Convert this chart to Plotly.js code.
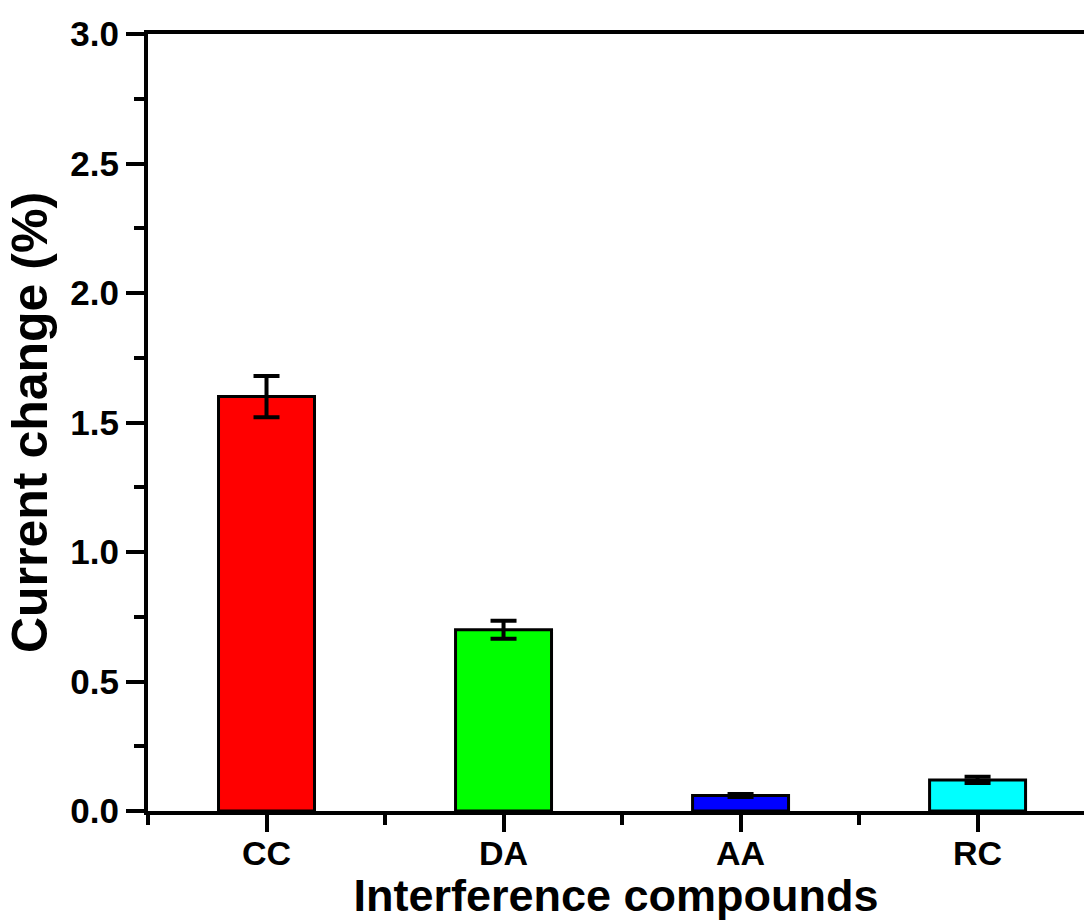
<!DOCTYPE html>
<html>
<head>
<meta charset="utf-8">
<script src="https://cdn.plot.ly/plotly-3.0.1.min.js"></script>
<style>html,body{margin:0;padding:0;background:#fff;overflow:hidden}</style>
</head>
<body>
<div id="chart" style="width:1084px;height:921px"></div>
<script>
const categories = ["CC", "DA", "AA", "RC"];
const values = [1.60, 0.70, 0.06, 0.12];
const errors = [0.08, 0.035, 0.006, 0.012];
const colors = ["#ff0000", "#00ff00", "#0000ff", "#00ffff"];
const yTickVals = [0, 0.5, 1.0, 1.5, 2.0, 2.5, 3.0];

const xpos = categories.map((c, i) => i);
const font = {family: "Arial, 'Liberation Sans', sans-serif", color: "#000", weight: "bold"};

const trace = {
  type: "bar",
  x: xpos,
  y: values,
  width: 0.405,
  marker: {color: colors, line: {color: "#000", width: 3}},
  error_y: {type: "data", array: errors, visible: true, color: "#000", thickness: 4, width: 13},
  hoverinfo: "skip"
};

const layout = {
  width: 1084, height: 921,
  margin: {l: 148, r: 0, t: 34, b: 110},
  paper_bgcolor: "#fff", plot_bgcolor: "#fff",
  showlegend: false,
  font: font,
  xaxis: {
    range: [-0.5, 3.449],
    tickmode: "array", tickvals: xpos, ticktext: categories,
    ticks: "outside", ticklen: 17, tickwidth: 4, tickcolor: "#000",
    ticklabelstandoff: -8,
    minor: {tickmode: "array", tickvals: [-0.5, 0.5, 1.5, 2.5], ticks: "outside", ticklen: 10, tickwidth: 4, tickcolor: "#000"},
    showline: true, linewidth: 4, linecolor: "#000", mirror: true,
    showgrid: false, zeroline: false,
    tickfont: Object.assign({}, font, {size: 34}),
    title: {text: "Interference compounds", font: Object.assign({}, font, {size: 45}), standoff: 12}
  },
  yaxis: {
    range: [0, 3.0],
    tickmode: "array", tickvals: yTickVals, tickformat: ".1f",
    ticks: "outside", ticklen: 18, tickwidth: 4, tickcolor: "#000",
    minor: {dtick: 0.25, tick0: 0, ticks: "outside", ticklen: 10, tickwidth: 4, tickcolor: "#000"},
    showline: true, linewidth: 4, linecolor: "#000", mirror: false,
    showgrid: false, zeroline: false,
    tickfont: Object.assign({}, font, {size: 35}),
    title: {text: "Current change (%)", font: Object.assign({}, font, {size: 50}), standoff: 8}
  }
};

Plotly.newPlot("chart", [trace], layout, {displayModeBar: false, staticPlot: true});
</script>
</body>
</html>
